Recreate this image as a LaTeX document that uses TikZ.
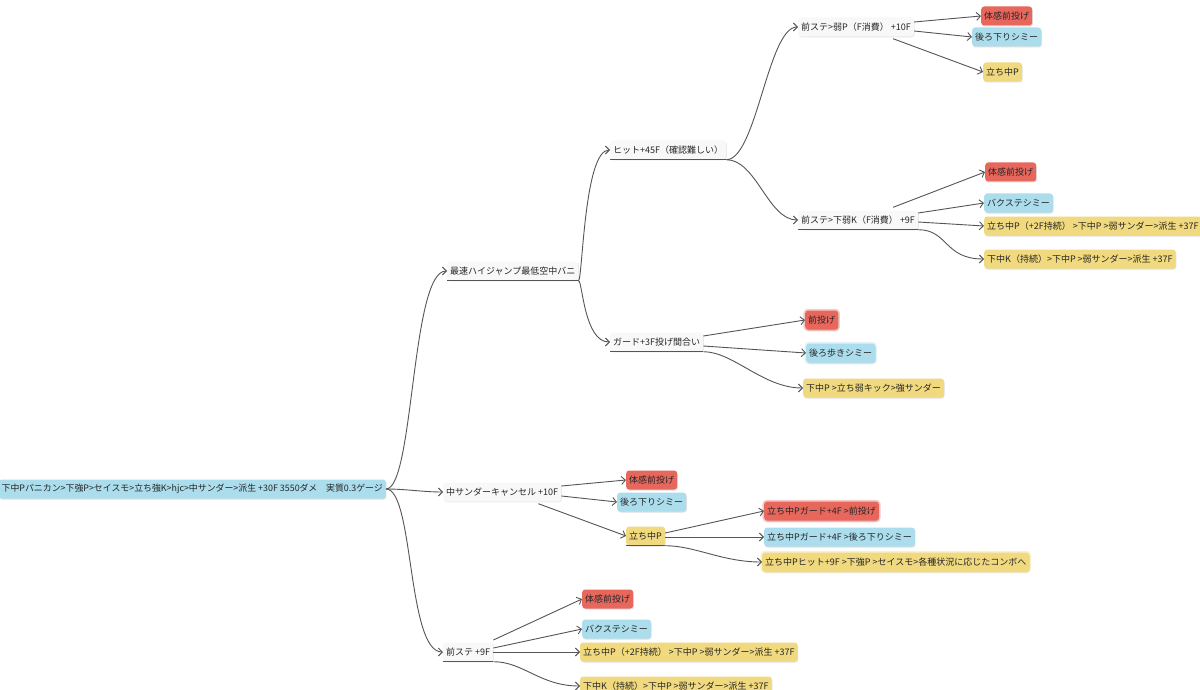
\documentclass[tikz,border=0pt]{standalone}
\usepackage{fontspec}
\setmainfont{Noto Sans CJK JP}
\usetikzlibrary{arrows.meta,shadows,calc}
\definecolor{mmred}{HTML}{E8675D}
\definecolor{mmblue}{HTML}{ABDDEC}
\definecolor{mmyellow}{HTML}{F0D97E}
\definecolor{mmline}{HTML}{555555}
\definecolor{mmgrey}{HTML}{F8F8F8}
\begin{document}
\begin{tikzpicture}[x=1pt,y=-1pt]
        \tikzstyle{every node}=[font=\fontsize{9}{11}\selectfont, inner sep=3pt, minimum height=19pt, rounded corners=3pt, anchor=west, text=black!85]
        \tikzstyle{topic}=[fill=mmgrey, drop shadow={opacity=0.18, shadow xshift=0.8pt, shadow yshift=-0.8pt}]
        \tikzstyle{redbox}=[fill=mmred, drop shadow={opacity=0.25, shadow xshift=0.6pt, shadow yshift=-1pt}]
        \tikzstyle{bluebox}=[fill=mmblue, drop shadow={opacity=0.25, shadow xshift=0.6pt, shadow yshift=-1pt}]
        \tikzstyle{yellowbox}=[fill=mmyellow, drop shadow={opacity=0.25, shadow xshift=0.6pt, shadow yshift=-1pt}]
        \tikzstyle{glow}=[preaction={draw=#1, line width=3.5pt, opacity=0.35}]
        \tikzstyle{link}=[draw=mmline, line width=0.9pt, -{Straight Barb[length=4pt,width=8pt]}]
        \tikzstyle{under}=[draw=mmline, line width=1pt]
        \fill[white] (0,0) rectangle (1200,690);
        \useasboundingbox (0,0) rectangle (1200,690);
        % root and first level
        \node[bluebox, anchor=east, font=\fontsize{8.9}{11}\selectfont] (root) at (386,489) {下中Pパニカン>下強P>セイスモ>立ち強K>hjc>中サンダー>派生 +30F 3550ダメ　実質0.3ゲージ};
        \node[topic] (jump) at (447,271) {最速ハイジャンプ最低空中バニ};
        \node[topic] (cancel) at (443,492) {中サンダーキャンセル +10F};
        \node[topic] (step) at (443,652) {前ステ +9F};
        \draw[under] (jump.south west) -- (jump.south east);
        \draw[under] (step.south west) -- (step.south east);
        \draw[link] (root.east) .. controls +(28,0) and +(-36,0) .. (jump.west);
        \draw[link] (root.east) .. controls +(20,0) and +(-20,0) .. (cancel.west);
        \draw[link] (root.east) .. controls +(28,0) and +(-36,0) .. (step.west);
        % hit / guard
        \node[topic] (hit) at (610,150) {ヒット+45F（確認難しい）};
        \node[topic] (guard) at (610,342) {ガード+3F投げ間合い};
        \draw[under] (hit.south west) -- (hit.south east);
        \draw[under] (guard.south west) -- (guard.south east);
        \draw[link] (jump.south east) .. controls +(4,0) and +(-26,0) .. (hit.west);
        \draw[link] (jump.south east) .. controls +(4,0) and +(-26,0) .. (guard.west);
        % hit branches
        \node[topic] (hitP) at (798,27) {前ステ>弱P（F消費） +10F};
        \node[topic] (hitK) at (798,220) {前ステ>下弱K（F消費） +9F};
        \draw[under] (hitK.south west) -- (hitK.south east);
        \draw[link] (hit.south east) .. controls +(30,0) and +(-30,0) .. (hitP.west);
        \draw[link] (hit.south east) .. controls +(30,0) and +(-30,0) .. (hitK.west);
        \node[redbox] (hitP1) at (981,16) {体感前投げ};
        \node[bluebox] (hitP2) at (972,37) {後ろ下りシミー};
        \node[yellowbox] (hitP3) at (983,72) {立ち中P};
        \draw[link] ($(hitP.east)+(0,-5)$) -- (hitP1.west);
        \draw[link] ($(hitP.east)+(0,4)$) -- (hitP2.west);
        \draw[link] ($(hitP.south east)+(-21,2)$) -- (hitP3.west);
        \node[redbox] (hitK1) at (985,172) {体感前投げ};
        \node[bluebox] (hitK2) at (984,203) {バクステシミー};
        \node[yellowbox] (hitK3) at (984,226) {立ち中P（+2F持続） >下中P >弱サンダー>派生 +37F};
        \node[yellowbox] (hitK4) at (984,259) {下中K（持続）>下中P >弱サンダー>派生 +37F};
        \draw[link] ($(hitK.north east)+(-25,-3)$) -- (hitK1.west);
        \draw[link] ($(hitK.east)+(0,-7)$) -- (hitK2.west);
        \draw[link] ($(hitK.east)+(0,2)$) -- (hitK3.west);
        \draw[link] (hitK.south east) .. controls +(30,0) and +(-40,0) .. (hitK4.west);
        % guard branches
        \node[redbox, glow=mmred] (guard1) at (805,320) {前投げ};
        \node[bluebox, glow=mmblue] (guard2) at (806,353) {後ろ歩きシミー};
        \node[yellowbox] (guard3) at (803,388) {下中P >立ち弱キック>強サンダー};
        \draw[link] ($(guard.east)+(0,-6)$) -- (guard1.west);
        \draw[link] ($(guard.east)+(0,4)$) -- (guard2.west);
        \draw[link] (guard.south east) .. controls +(30,0) and +(-40,0) .. (guard3.west);
        % cancel branches
        \node[redbox] (cancel1) at (626,480) {体感前投げ};
        \node[bluebox] (cancel2) at (617,502) {後ろ下りシミー};
        \node[yellowbox] (cancel3) at (626,536) {立ち中P};
        \draw[under] (cancel3.south west) -- (cancel3.south east);
        \draw[link] ($(cancel.east)+(0,-6)$) -- (cancel1.west);
        \draw[link] ($(cancel.east)+(0,4)$) -- (cancel2.west);
        \draw[link] ($(cancel.south east)+(-23,2)$) -- (cancel3.west);
        \node[redbox, glow=mmred] (stand1) at (764,511) {立ち中Pガード+4F >前投げ};
        \node[bluebox] (stand2) at (764,537) {立ち中Pガード+4F >後ろ下りシミー};
        \node[yellowbox, glow=mmyellow] (stand3) at (762,562) {立ち中Pヒット+9F >下強P >セイスモ>各種状況に応じたコンボへ};
        \draw[link] ($(cancel3.east)+(0,-3)$) -- (stand1.west);
        \draw[link] ($(cancel3.east)+(0,1)$) -- (stand2.west);
        \draw[link] (cancel3.south east) .. controls +(30,0) and +(-40,0) .. (stand3.west);
        % step branches
        \node[redbox] (step1) at (582,599) {体感前投げ};
        \node[bluebox] (step2) at (582,629) {バクステシミー};
        \node[yellowbox] (step3) at (580,652) {立ち中P（+2F持続） >下中P >弱サンダー>派生 +37F};
        \node[yellowbox] (step4) at (580,686) {下中K（持続）>下中P >弱サンダー>派生 +37F};
        \draw[link] ($(step.east)+(0,-12)$) -- (step1.west);
        \draw[link] ($(step.east)+(0,-4)$) -- (step2.west);
        \draw[link] (step.east) -- (step3.west);
        \draw[link] (step.south east) .. controls +(30,0) and +(-40,0) .. (step4.west);
\end{tikzpicture}
\end{document}
